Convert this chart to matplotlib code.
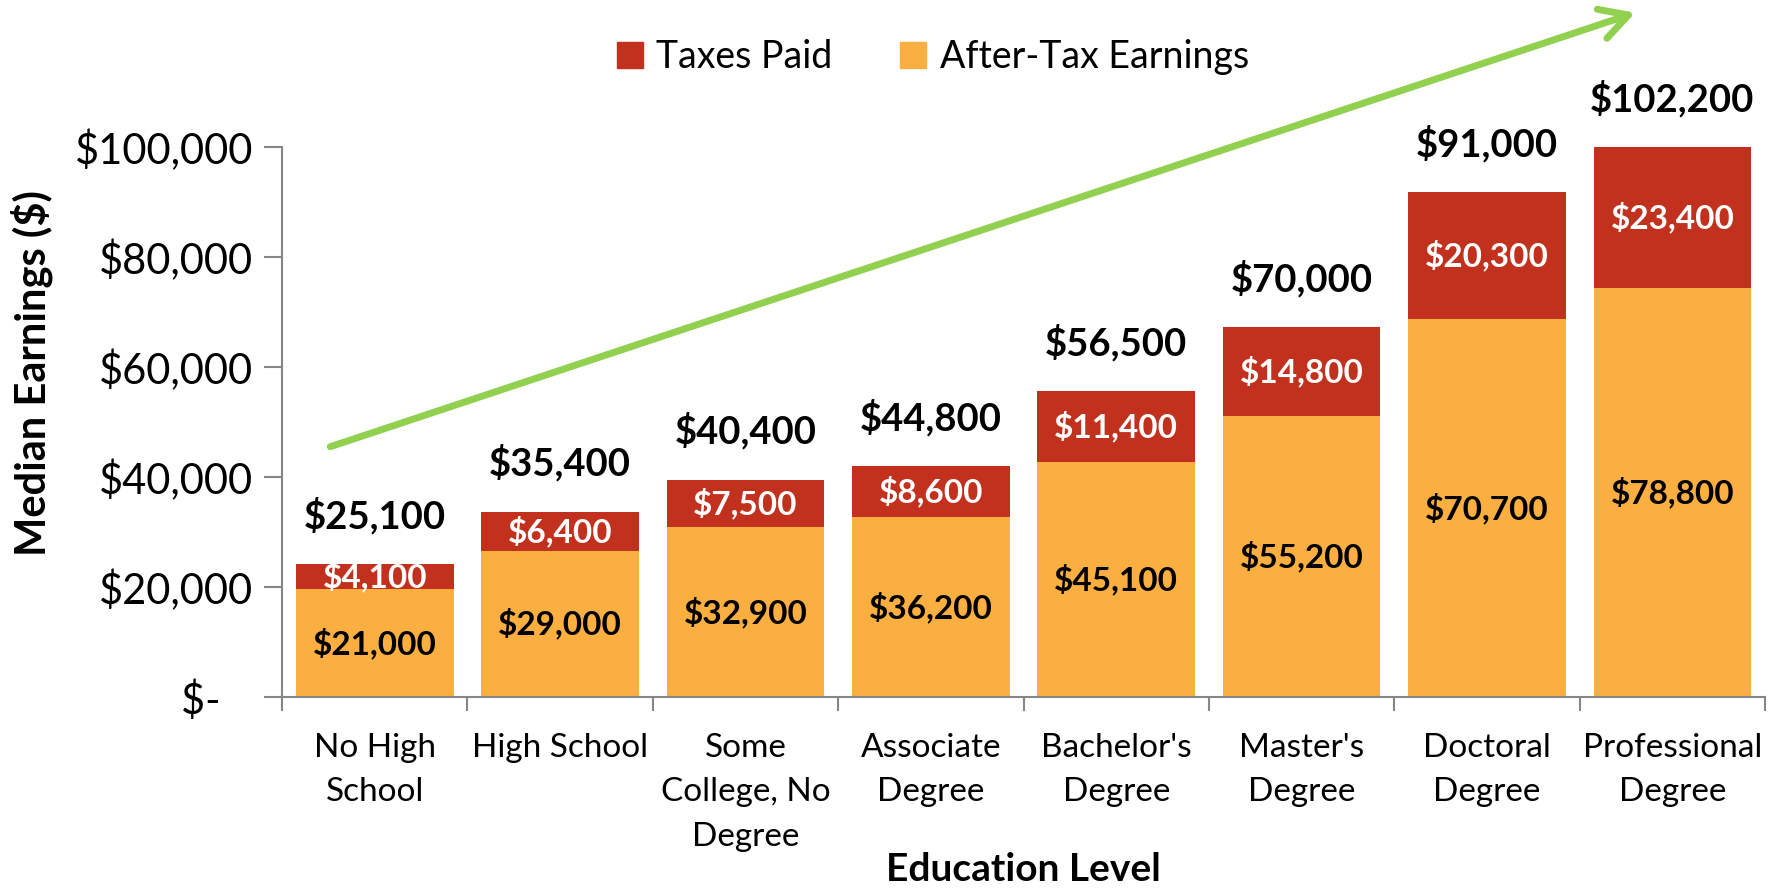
import matplotlib
matplotlib.use('Agg')
import matplotlib.pyplot as plt
from matplotlib.patches import Patch
from matplotlib.ticker import FuncFormatter, FixedLocator
import numpy as np

plt.rcParams['font.family'] = ['Lato', 'DejaVu Sans']

categories = ['No High\nSchool', 'High School', 'Some\nCollege, No\nDegree',
              'Associate\nDegree', "Bachelor's\nDegree", "Master's\nDegree",
              'Doctoral\nDegree', 'Professional\nDegree']
# bar heights as drawn in the chart
after_tax = [19600, 26600, 30900, 32700, 42700, 51000, 68700, 74400]
taxes = [4600, 7100, 8600, 9300, 12900, 16200, 23100, 25600]
# values printed on the bars
after_tax_text = [21000, 29000, 32900, 36200, 45100, 55200, 70700, 78800]
taxes_text = [4100, 6400, 7500, 8600, 11400, 14800, 20300, 23400]
total_text = [25100, 35400, 40400, 44800, 56500, 70000, 91000, 102200]

red = '#C1311D'
orange = '#FBAF41'
green = '#92D050'
gray = '#868686'

fig = plt.figure(figsize=(17.75, 8.89), dpi=100)
ax = fig.add_axes([0.1589, 0.216, 0.8355, 0.6187])

x = np.arange(len(categories))
b1 = ax.bar(x, after_tax, width=0.85, color=orange)
b2 = ax.bar(x, taxes, width=0.85, bottom=after_tax, color=red)

ax.bar_label(b1, labels=['${:,}'.format(v) for v in after_tax_text], label_type='center',
             fontsize=24, fontweight='bold', color='black')
ax.bar_label(b2, labels=['${:,}'.format(v) for v in taxes_text], label_type='center',
             fontsize=24, fontweight='bold', color='white')
tops = np.array(after_tax) + np.array(taxes)
for xi, top, t in zip(x, tops, total_text):
    ax.annotate('${:,}'.format(t), (xi, top), xytext=(0, 35), textcoords='offset points',
                ha='center', va='center', fontsize=27.5, fontweight='bold', annotation_clip=False)

ax.set_xlim(-0.5, len(categories) - 0.5)
ax.set_ylim(0, 100000)
ax.set_yticks(np.arange(0, 100001, 20000))
ax.yaxis.set_major_formatter(FuncFormatter(lambda v, p: '$-   ' if v == 0 else '${:,.0f}'.format(v)))
ax.set_xticks(x)
ax.set_xticklabels(categories, fontsize=24, linespacing=1.6)
ax.xaxis.set_minor_locator(FixedLocator(np.arange(-0.5, len(categories), 1.0)))
ax.tick_params(axis='x', which='major', length=0, pad=26)
ax.tick_params(axis='x', which='minor', length=10, width=1.5, color=gray, direction='out')
ax.tick_params(axis='y', length=13, width=1.5, color=gray, labelsize=30, pad=8)

for s in ['top', 'right']:
    ax.spines[s].set_visible(False)
for s in ['left', 'bottom']:
    ax.spines[s].set_color(gray)
    ax.spines[s].set_linewidth(1.5)

ax.set_ylabel('Median Earnings ($)', fontsize=30, fontweight='bold')
ax.yaxis.set_label_coords(-0.1544, 0.589)
ax.set_xlabel('Education Level', fontsize=28, fontweight='bold', labelpad=0)

ax.annotate('', xy=(6.80, 124400), xytext=(-0.24, 45500), xycoords='data',
            arrowprops=dict(arrowstyle='->,head_length=1.0,head_width=0.55', color=green,
                            lw=5, mutation_scale=20, shrinkA=0, shrinkB=0),
            annotation_clip=False)

handles = [Patch(color=red, label='Taxes Paid'), Patch(color=orange, label='After-Tax Earnings')]
fig.legend(handles=handles, loc='center', bbox_to_anchor=(0.5256, 0.936), ncol=2, frameon=False,
           fontsize=27, handlelength=0.7, handleheight=0.7, handletextpad=0.35, columnspacing=1.8)

fig.savefig('out.png', dpi=100)
